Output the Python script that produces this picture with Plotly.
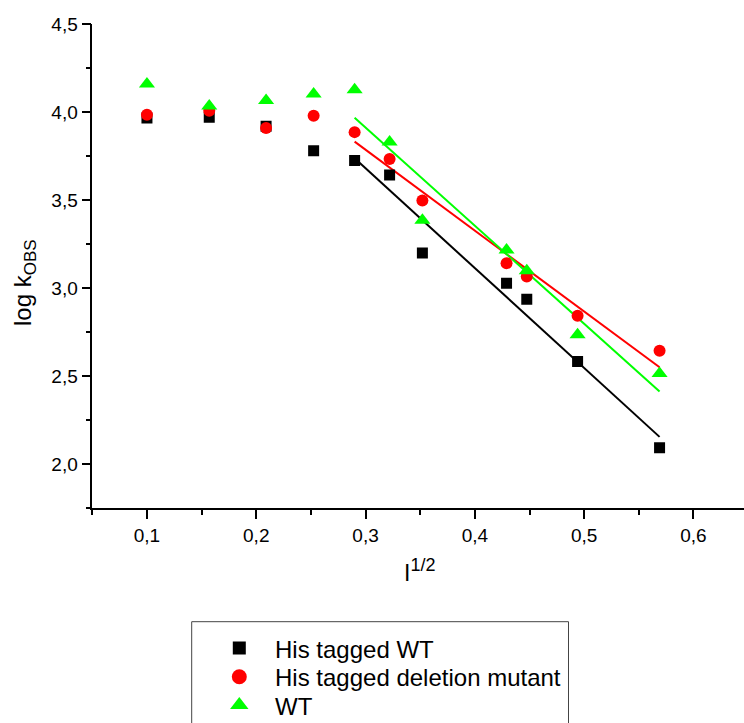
import numpy as np
import plotly.graph_objects as go

# ---- data ----
sqrt_I = [0.100, 0.157, 0.209, 0.2525, 0.290, 0.322, 0.352, 0.429, 0.4475, 0.494, 0.569]
his_tagged_wt = [3.966, 3.970, 3.920, 3.780, 3.725, 3.643, 3.200, 3.028, 2.937, 2.583, 2.094]
his_tagged_del = [3.985, 4.007, 3.910, 3.979, 3.886, 3.733, 3.498, 3.142, 3.066, 2.843, 2.644]
wt = [4.159, 4.034, 4.065, 4.102, 4.127, 3.830, 3.385, 3.216, 3.099, 2.735, 2.515]
series_names = ["His tagged WT", "His tagged deletion mutant", "WT"]
fit_from = 4  # linear fits use points from I^1/2 = 0.29 onwards

# ---- styles ----
colors = ["#000000", "#FF0000", "#00FF00"]
symbols = ["square", "circle", "triangle-up"]
sizes = [11, 12, 14]
legend_sizes = [13, 15, 16]

FONT = "Liberation Sans, Arial, sans-serif"
W, H = 744, 723
# plot area in pixels
PL, PR, PT, PB = 92.3, 744.0, 24.0, 508.3
x_scale = 1093.0  # px per unit on x
x0 = 0.05
x1 = x0 + (PR - PL) / x_scale

# legend box (pixels)
LB_L, LB_R, LB_T = 191.7, 568.5, 621.7
KEY_X, TEXT_X = 239.3, 272.7
ROWS_Y = [648.0, 676.7, 705.0]


def fx(p):
    return p / W


def fy(p):
    return (H - p) / H


fig = go.Figure()
all_series = [his_tagged_wt, his_tagged_del, wt]

# fit lines
for ys, c in zip(all_series, colors):
    xs = np.array(sqrt_I[fit_from:])
    yv = np.array(ys[fit_from:])
    slope, icpt = np.polyfit(xs, yv, 1)
    lx = [xs[0], xs[-1]]
    ly = [icpt + slope * v for v in lx]
    fig.add_trace(go.Scatter(x=lx, y=ly, mode="lines", line=dict(color=c, width=2),
                             showlegend=False, hoverinfo="skip"))

# markers
for ys, name, c, s, sz in zip(all_series, series_names, colors, symbols, sizes):
    fig.add_trace(go.Scatter(x=sqrt_I, y=ys, mode="markers", name=name, showlegend=False,
                             marker=dict(color=c, symbol=s, size=sz, line=dict(width=0))))

# legend keys (drawn on a helper axis pair laid over the legend box)
annotations = []
for i, (name, c, s, sz) in enumerate(zip(series_names, colors, symbols, legend_sizes)):
    fig.add_trace(go.Scatter(x=[KEY_X], y=[ROWS_Y[i]], mode="markers", xaxis="x2", yaxis="y2",
                             showlegend=False, hoverinfo="skip",
                             marker=dict(color=c, symbol=s, size=sz, line=dict(width=0))))
    annotations.append(dict(text=name, xref="paper", yref="paper", x=fx(TEXT_X), y=fy(ROWS_Y[i] + 1),
                            xanchor="left", yanchor="middle", showarrow=False,
                            font=dict(family=FONT, size=24, color="black")))

axis_common = dict(showline=True, linecolor="black", linewidth=1.5, ticks="outside",
                   ticklen=9, tickwidth=1.5, tickcolor="black", showgrid=False,
                   zeroline=False, automargin=False,
                   tickfont=dict(family=FONT, size=19, color="black"),
                   tickformat=".1f")

annotations += [
    dict(text='log k<sub><span style="font-size:17px">OBS</span></sub>', xref="paper", yref="paper",
         x=fx(24), y=fy(283), xanchor="center", yanchor="middle",
         textangle=-90, showarrow=False, font=dict(family=FONT, size=24, color="black")),
    dict(text='I<sup><span style="font-size:18px">1/2</span></sup>', xref="paper", yref="paper",
         x=fx(419), y=fy(570), xanchor="center", yanchor="middle",
         showarrow=False, font=dict(family=FONT, size=23, color="black")),
]

fig.update_layout(
    width=W, height=H, autosize=False,
    margin=dict(l=0, r=0, t=0, b=0, pad=0),
    paper_bgcolor="white", plot_bgcolor="rgba(0,0,0,0)",
    separators=", ",
    font=dict(family=FONT, color="black"),
    xaxis=dict(domain=[fx(PL), fx(PR)], range=[x0, x1], tick0=0, dtick=0.1,
               minor=dict(dtick=0.05, tick0=0, ticks="outside", ticklen=5, tickwidth=1.5,
                          tickcolor="black"),
               anchor="y", **axis_common),
    yaxis=dict(domain=[fy(PB), fy(PT)], range=[1.75, 4.5], tick0=0, dtick=0.5,
               minor=dict(dtick=0.25, tick0=0, ticks="outside", ticklen=5, tickwidth=1.5,
                          tickcolor="black"),
               anchor="x", **axis_common),
    xaxis2=dict(domain=[fx(LB_L), fx(LB_R)], range=[LB_L, LB_R], visible=False,
                anchor="y2", fixedrange=True),
    yaxis2=dict(domain=[0, fy(LB_T)], range=[H, LB_T], visible=False,
                anchor="x2", fixedrange=True),
    showlegend=False,
    annotations=annotations,
    shapes=[
        dict(type="rect", xref="paper", yref="paper",
             x0=fx(LB_L), x1=fx(LB_R), y0=fy(H + 20), y1=fy(LB_T),
             line=dict(color="#444444", width=1), fillcolor="rgba(0,0,0,0)"),
    ],
)

fig.write_html("out.html")
